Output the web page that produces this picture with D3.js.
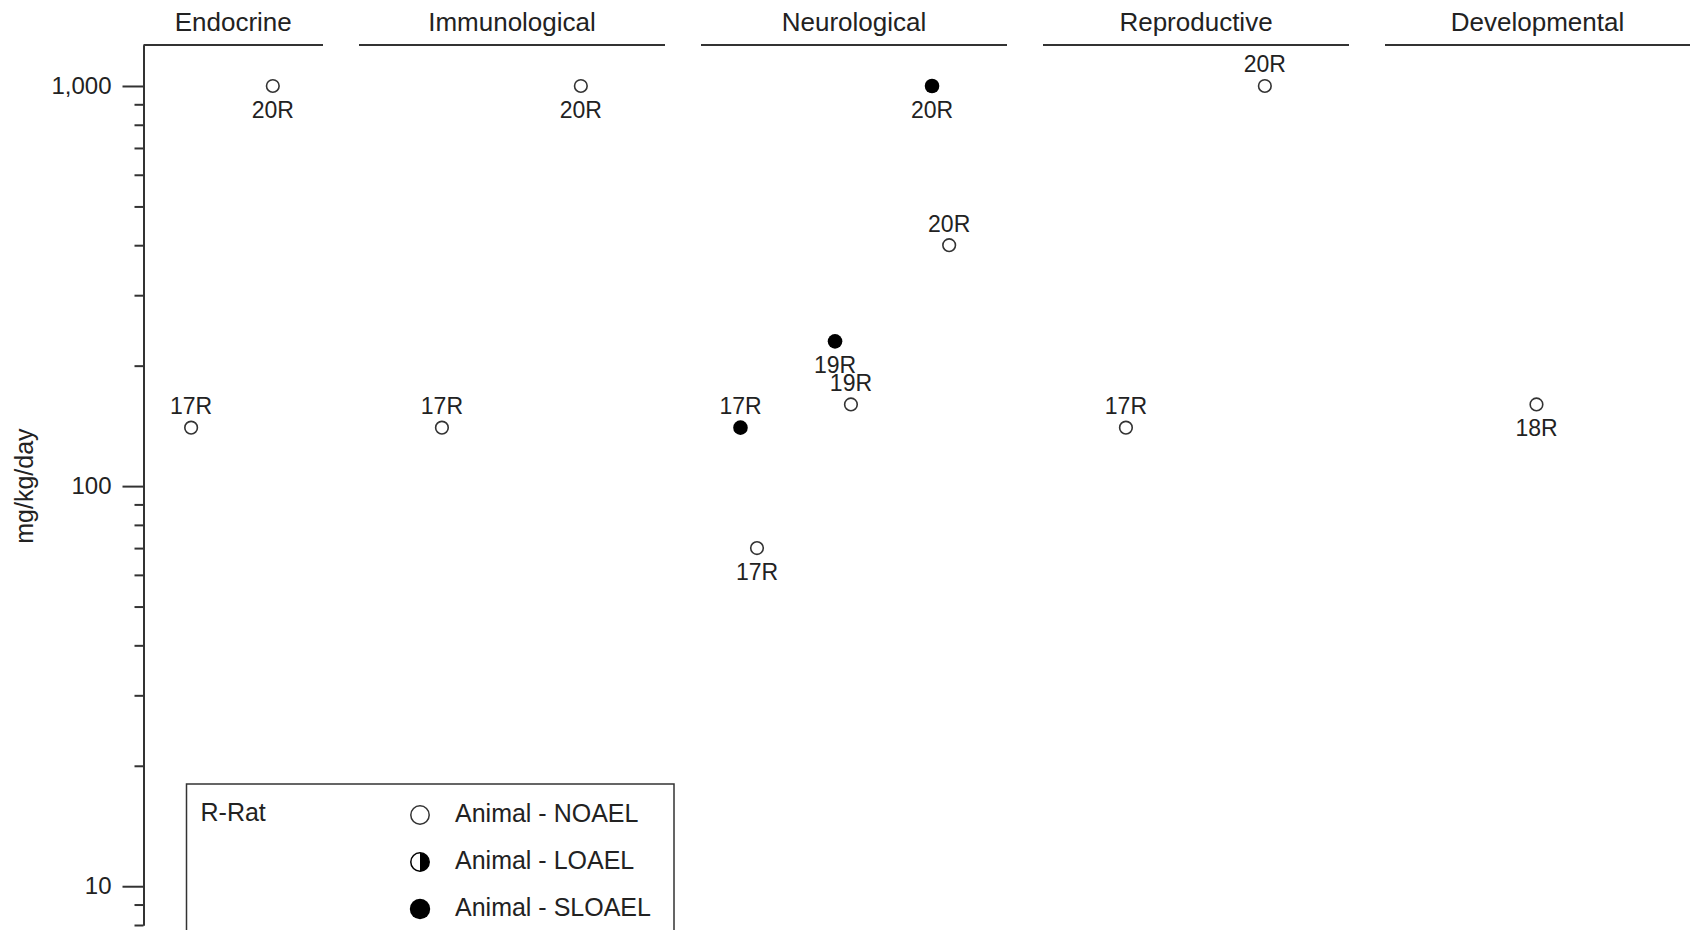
<!DOCTYPE html>
<html>
<head>
<meta charset="utf-8">
<script src="https://cdn.jsdelivr.net/npm/d3@7"></script>
<style>
body { margin: 0; background: #fff; }
svg text { font-family: "Liberation Sans", Arial, sans-serif; fill: #222; }
</style>
</head>
<body>
<script>
// data
var categories = ["Endocrine", "Immunological", "Neurological", "Reproductive", "Developmental"];

var pointCategory = ["Endocrine", "Endocrine", "Immunological", "Immunological",
    "Neurological", "Neurological", "Neurological", "Neurological", "Neurological", "Neurological",
    "Reproductive", "Reproductive", "Developmental"];
var pointDose = [1000, 140, 1000, 140, 1000, 400, 230, 160, 140, 70, 1000, 140, 160];
var pointStudy = ["20R", "17R", "20R", "17R", "20R", "20R", "19R", "19R", "17R", "17R", "20R", "17R", "18R"];
var pointType = ["NOAEL", "NOAEL", "NOAEL", "NOAEL", "SLOAEL", "NOAEL", "SLOAEL", "NOAEL", "SLOAEL", "NOAEL", "NOAEL", "NOAEL", "NOAEL"];
// relative position of each point inside its category band (0..1)
var pointSlot = [0.836, 0.569, 0.725, 0.271, 0.755, 0.811, 0.438, 0.490, 0.129, 0.183, 0.725, 0.271, 0.495];
var labelSide = ["below", "above", "below", "above", "below", "above", "below", "above", "above", "below", "above", "above", "below"];

var majorTicks = [10, 100, 1000];
var minorTicks = [8, 9, 20, 30, 40, 50, 60, 70, 80, 90, 200, 300, 400, 500, 600, 700, 800, 900];

var legendSpecies = "R-Rat";
var legendTypes = ["NOAEL", "LOAEL", "SLOAEL"];
var legendLabels = ["Animal - NOAEL", "Animal - LOAEL", "Animal - SLOAEL"];

var width = 1690, height = 930,
    axisX = 143.5, topY = 45;

var svg = d3.select("body").append("svg")
    .attr("width", width)
    .attr("height", height);

var y = d3.scaleLog().domain([8, 1266]).range([925, topY]);

var x = d3.scaleBand().domain(categories)
    .range([17, 1691])
    .paddingInner(36 / 342)
    .paddingOuter(0);

var slot = d3.scaleLinear().domain([0, 1]).range([0, x.bandwidth()]);

// category headers
var heads = svg.append("g").selectAll("g")
    .data(categories)
    .enter().append("g");

heads.append("line")
    .attr("x1", function(d) { return Math.max(x(d), axisX); })
    .attr("x2", function(d) { return Math.min(x(d) + x.bandwidth(), width); })
    .attr("y1", topY).attr("y2", topY)
    .style("stroke", "#333")
    .style("stroke-width", "2px");

heads.append("text")
    .attr("x", function(d) {
        var a = Math.max(x(d), axisX), b = Math.min(x(d) + x.bandwidth(), width);
        return (a + b) / 2;
    })
    .attr("y", 31)
    .attr("text-anchor", "middle")
    .style("font-size", "26px")
    .text(function(d) { return d; });

// y axis
var minorAxis = svg.append("g")
    .attr("transform", "translate(" + axisX + ",0)")
    .call(d3.axisLeft(y).tickValues(minorTicks).tickSize(9).tickSizeOuter(0).tickFormat(""));

var majorAxis = svg.append("g")
    .attr("transform", "translate(" + axisX + ",0)")
    .call(d3.axisLeft(y).tickValues(majorTicks).tickSize(21).tickSizeOuter(0).tickPadding(11)
        .tickFormat(d3.format(",")));

[minorAxis, majorAxis].forEach(function(g) {
    g.selectAll("path, line").style("stroke", "#333").style("stroke-width", "2px");
    g.selectAll("text").style("font-size", "24px").style("fill", "#222");
    g.attr("font-family", null).attr("font-size", null);
});

svg.append("text")
    .attr("transform", "translate(33," + y(100) + ") rotate(-90)")
    .attr("text-anchor", "middle")
    .style("font-size", "25px")
    .text("mg/kg/day");

// points
var points = pointDose.map(function(v, i) {
    return {
        cat: pointCategory[i], dose: v, study: pointStudy[i],
        type: pointType[i], slot: pointSlot[i], side: labelSide[i]
    };
});

function px(d) { return x(d.cat) + slot(d.slot); }

function drawMarker(g, type, r, sw) {
    if (type === "SLOAEL") {
        g.append("circle").attr("r", r + 1).style("fill", "#000");
    } else if (type === "LOAEL") {
        g.append("circle").attr("r", r).style("fill", "#fff")
            .style("stroke", "#000").style("stroke-width", sw);
        g.append("path")
            .attr("d", "M0," + (-r) + "A" + r + "," + r + " 0 0,1 0," + r + "Z")
            .style("fill", "#000");
    } else {
        g.append("circle").attr("r", r).style("fill", "#fff")
            .style("stroke", "#333").style("stroke-width", sw);
    }
}

var marks = svg.append("g").selectAll("g")
    .data(points)
    .enter().append("g")
    .attr("transform", function(d) { return "translate(" + px(d) + "," + y(d.dose) + ")"; });

marks.each(function(d) {
    drawMarker(d3.select(this), d.type, 6.3, 1.6);
});

marks.append("text")
    .attr("text-anchor", "middle")
    .attr("y", function(d) { return d.side === "above" ? -13.5 : 32; })
    .style("font-size", "23px")
    .text(function(d) { return d.study; });

// legend
var legend = svg.append("g");

legend.append("rect")
    .attr("x", 186.5).attr("y", 784)
    .attr("width", 487.5).attr("height", 170)
    .style("fill", "#fff")
    .style("stroke", "#333")
    .style("stroke-width", "1.5px");

legend.append("text")
    .attr("x", 200.5).attr("y", 821)
    .style("font-size", "25px")
    .text(legendSpecies);

var rows = legend.selectAll("g.row")
    .data(legendTypes)
    .enter().append("g")
    .attr("class", "row")
    .attr("transform", function(d, i) { return "translate(420," + (815 + i * 47) + ")"; });

rows.each(function(d) {
    drawMarker(d3.select(this), d, 9.2, 1.5);
});

rows.append("text")
    .attr("x", 35)
    .attr("y", 7)
    .style("font-size", "25px")
    .text(function(d, i) { return legendLabels[i]; });
</script>
</body>
</html>
